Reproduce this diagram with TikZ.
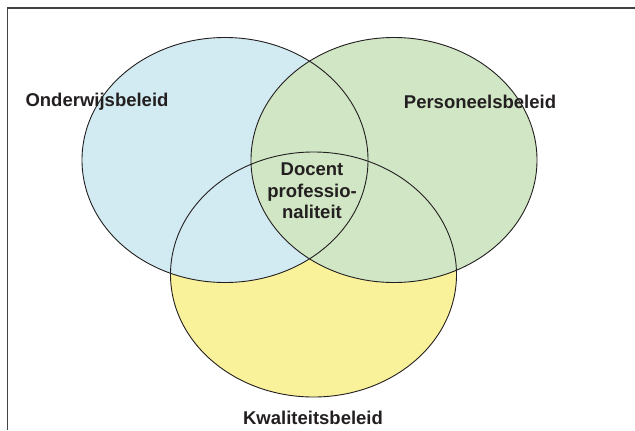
\documentclass[tikz,border=0pt]{standalone}
\usepackage{fontspec}
\setmainfont{Liberation Sans}
\usetikzlibrary{shapes.geometric}
\definecolor{onderwijs}{HTML}{D2EBF2}
\definecolor{personeel}{HTML}{D0E6C4}
\definecolor{kwaliteit}{HTML}{FAF29A}
\definecolor{ink}{HTML}{231F20}
\tikzset{
  circlefill/.style={ellipse, minimum width=286bp, minimum height=245bp, inner sep=0pt, draw=none},
  circleline/.style={ellipse, minimum width=286bp, minimum height=245bp, inner sep=0pt, draw=ink, line width=0.9bp},
  lbl/.style={font=\fontsize{18.5bp}{21.5bp}\selectfont\bfseries, text=ink, align=center, inner sep=0pt}
}
\begin{document}
\begin{tikzpicture}[x=1bp,y=-1bp]
  \useasboundingbox (0,0) rectangle (635,430);
  % open frame: top and left edges only
  \draw[line width=1.4bp, color=ink!85] (7.5,430) -- (7.5,8) -- (635,8);
  % fills, bottom circle first
  \node[circlefill, fill=kwaliteit] (kf) at (313.5,274.5) {};
  \node[circlefill, fill=onderwijs] (of) at (225,160) {};
  \node[circlefill, fill=personeel] (pf) at (394,160) {};
  % outlines on top of all fills
  \node[circleline] (k) at (313.5,274.5) {};
  \node[circleline] (o) at (225,160) {};
  \node[circleline] (p) at (394,160) {};
  % labels
  \node[lbl] (lo) at (97,102) {Onderwijsbeleid};
  \node[lbl] (lp) at (480,102) {Personeelsbeleid};
  \node[lbl] (lk) at (313,418) {Kwaliteitsbeleid};
  \node[lbl] (lc) at (312,191) {Docent\\professio-\\naliteit};
\end{tikzpicture}
\end{document}
